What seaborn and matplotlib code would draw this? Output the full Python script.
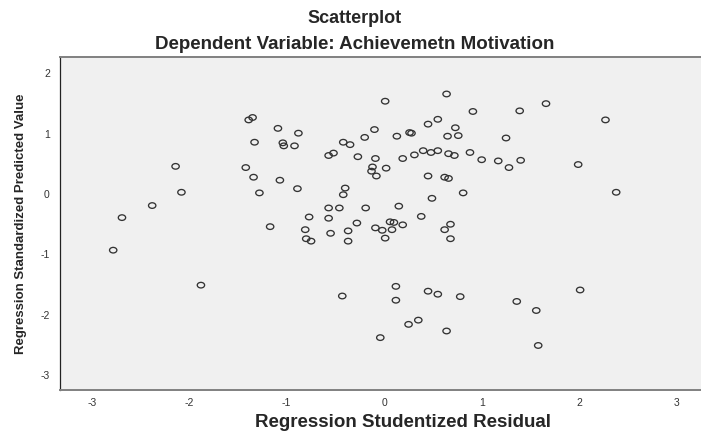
import numpy as np
import pandas as pd
import matplotlib
matplotlib.use("Agg")
import matplotlib.pyplot as plt
from matplotlib.path import Path
import seaborn as sns

# --- DATA ---
residual = [-1.35, -1.39, -1.09, -1.33, -2.14, -1.42, -1.34, -2.08, -1.28, -2.38, -2.69, -1.17, -2.78, -1.88,
            0.64, 0.01, 0.91, 0.55, 0.45, -0.10, -0.88, 0.73, 0.26, 0.28, -0.20, 0.13, 0.65, 0.76, -1.04, -1.03,
            -0.92, -0.42, -0.35, -0.57, -0.52, -0.27, -0.09, 0.19, 0.31, 0.40, 0.48, 0.55, 0.66, 0.72, 0.88, 1.00,
            -0.12, -0.13, -0.08, 0.02, 0.45, 0.62, 0.66, -1.07, -0.89, -0.40, -0.42, 0.81, 0.49, -0.57, -0.46,
            -0.19, 0.15, -0.77, -0.57, 0.38,
            -0.81, -0.28, -0.55, -0.37, -0.80, -0.75, -0.37, -0.09, -0.02, 0.06, 0.10, 0.08, 0.19, 0.01, 0.62,
            0.68, 0.68, 0.12, 0.12, -0.43, 0.45, 0.55, 0.78, 0.25, 0.35, 0.64, -0.04,
            1.66, 1.39, 2.27, 1.25, 1.17, 1.28, 1.40, 1.99, 2.38,
            1.36, 1.56, 2.01, 1.58]
predicted = [1.27, 1.23, 1.09, 0.86, 0.46, 0.44, 0.28, 0.03, 0.02, -0.19, -0.39, -0.54, -0.93, -1.51,
             1.66, 1.54, 1.37, 1.24, 1.16, 1.07, 1.01, 1.10, 1.02, 1.01, 0.94, 0.96, 0.96, 0.97, 0.85, 0.80,
             0.80, 0.86, 0.82, 0.64, 0.68, 0.62, 0.59, 0.59, 0.65, 0.72, 0.69, 0.72, 0.67, 0.64, 0.69, 0.57,
             0.45, 0.38, 0.30, 0.43, 0.30, 0.28, 0.26, 0.23, 0.09, 0.10, -0.01, 0.02, -0.07, -0.23, -0.23,
             -0.23, -0.20, -0.38, -0.40, -0.37,
             -0.59, -0.48, -0.65, -0.61, -0.74, -0.78, -0.78, -0.56, -0.60, -0.46, -0.47, -0.59, -0.51, -0.73, -0.59,
             -0.50, -0.74, -1.53, -1.76, -1.69, -1.61, -1.66, -1.70, -2.16, -2.09, -2.27, -2.38,
             1.50, 1.38, 1.23, 0.93, 0.55, 0.44, 0.56, 0.49, 0.03,
             -1.78, -1.93, -1.59, -2.51]
x_ticks = [-3, -2, -1, 0, 1, 2, 3]
y_ticks = [-3, -2, -1, 0, 1, 2]

df = pd.DataFrame({"residual": residual, "predicted": predicted})

# --- STYLE ---
sns.set_style("white")
plt.rcParams['font.family'] = ['Liberation Sans', 'DejaVu Sans']
plt.rcParams['axes.unicode_minus'] = False

# squashed circle, like the SPSS output
circ = Path.unit_circle()
ellipse = Path(circ.vertices * np.array([1.0, 0.76]), circ.codes)

fig = plt.figure(figsize=(7.01, 4.32), dpi=100)
ax = fig.add_axes([0.085, 0.097, 0.915, 0.772])
ax.set_facecolor('#f0f0f0')

sns.scatterplot(data=df, x="residual", y="predicted", ax=ax,
                marker=ellipse, s=28, facecolor='none',
                edgecolor='#333333', linewidth=0.95)

ax.set_xlim(-3.33, 3.25)
ax.set_ylim(-3.25, 2.28)
ax.set_xticks(x_ticks)
ax.set_yticks(y_ticks)
ax.set_xlabel('')
ax.set_ylabel('')
ax.tick_params(axis='both', direction='out', labelsize=7.5, labelcolor='#333333',
               color='#333333', width=0.8)
ax.tick_params(axis='x', length=4.5, pad=1)
ax.tick_params(axis='y', length=6, pad=1)

ax.spines['left'].set_color('#222222')
ax.spines['left'].set_linewidth(0.9)
for s in ['top', 'bottom']:
    ax.spines[s].set_color('#808080')
    ax.spines[s].set_linewidth(1.4)
ax.spines['right'].set_visible(False)

# --- TEXT ---
fig.text(0.506, 0.958, 'Scatterplot', ha='center', va='center',
         fontsize=13, fontweight='bold')
fig.text(0.506, 0.896, 'Dependent Variable: Achievemetn Motivation', ha='center', va='center',
         fontsize=13.5, fontweight='bold')
fig.text(0.575, 0.023, 'Regression Studentized Residual', ha='center', va='center',
         fontsize=13.5, fontweight='bold')
fig.text(0.03, 0.483, 'Regression Standardized Predicted Value', ha='center', va='center',
         rotation=90, fontsize=9.5, fontweight='bold')

plt.savefig('out.png', dpi=100)
